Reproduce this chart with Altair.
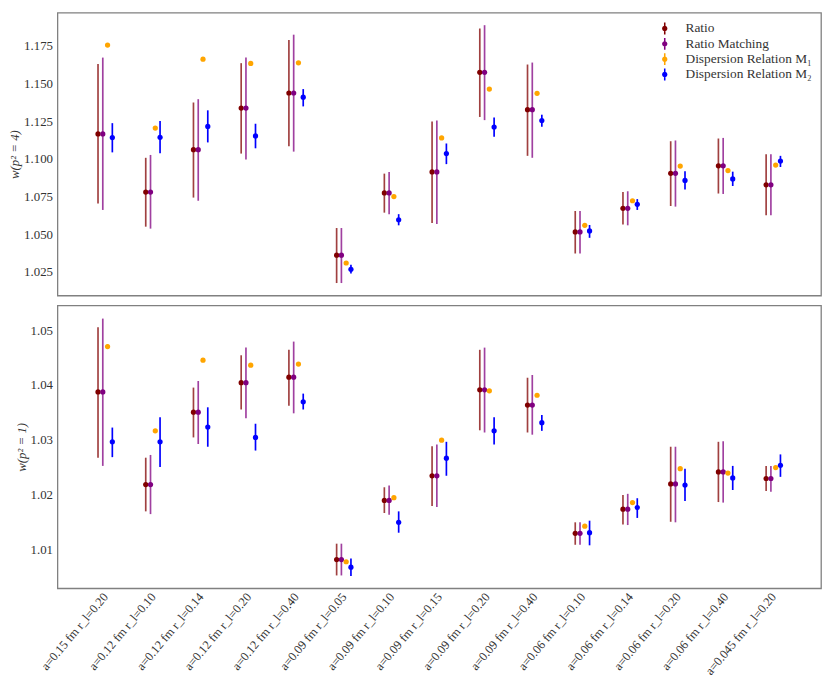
import altair as alt
import pandas as pd

categories = [
    "a=0.15 fm r_l=0.20", "a=0.12 fm r_l=0.10", "a=0.12 fm r_l=0.14", "a=0.12 fm r_l=0.20",
    "a=0.12 fm r_l=0.40", "a=0.09 fm r_l=0.05", "a=0.09 fm r_l=0.10", "a=0.09 fm r_l=0.15",
    "a=0.09 fm r_l=0.20", "a=0.09 fm r_l=0.40", "a=0.06 fm r_l=0.10", "a=0.06 fm r_l=0.14",
    "a=0.06 fm r_l=0.20", "a=0.06 fm r_l=0.40", "a=0.045 fm r_l=0.20",
]
series_names = ["Ratio", "Ratio Matching", "Dispersion Relation M₁", "Dispersion Relation M₂"]
series_colors = ["#800000", "#800080", "#FFA500", "#0000FF"]
bar_opacity = [0.75, 0.75, 1.0, 1.0]
offsets = [-0.15, -0.05, 0.05, 0.15]

# ---- w(p^2 = 4) ----
ratio4 = [1.1165, 1.078, 1.1061, 1.1337, 1.1437, 1.0361, 1.0774, 1.0913, 1.1574, 1.1326, 1.0515, 1.0672, 1.0904, 1.0954, 1.0828]
ratio4_lo = [1.0704, 1.055, 1.0743, 1.1035, 1.1083, 1.0176, 1.0643, 1.0574, 1.1278, 1.102, 1.0372, 1.0565, 1.0687, 1.077, 1.0626]
ratio4_hi = [1.163, 1.1007, 1.1374, 1.1635, 1.1789, 1.0541, 1.0902, 1.1248, 1.1865, 1.1626, 1.0654, 1.078, 1.1117, 1.1135, 1.103]
match4 = [1.1165, 1.078, 1.1061, 1.1337, 1.1437, 1.0361, 1.0774, 1.0913, 1.1574, 1.1326, 1.0515, 1.0672, 1.0904, 1.0954, 1.0828]
match4_lo = [1.0661, 1.0537, 1.0722, 1.0996, 1.1048, 1.0176, 1.0633, 1.0567, 1.1257, 1.1007, 1.0372, 1.0559, 1.0683, 1.0767, 1.0626]
match4_hi = [1.1672, 1.1026, 1.1396, 1.1672, 1.1824, 1.0541, 1.0913, 1.1254, 1.1887, 1.1639, 1.0654, 1.0785, 1.1122, 1.1139, 1.103]
m1_4 = [1.1755, 1.1204, 1.1661, 1.1633, 1.1637, 1.0309, 1.075, 1.1139, 1.1463, 1.1435, 1.0559, 1.0722, 1.0952, 1.0922, 1.0959]
m1_4_lo = [1.1743, 1.1204, 1.1661, 1.1633, 1.1637, 1.0309, 1.075, 1.1139, 1.1463, 1.1435, 1.0559, 1.0722, 1.0952, 1.0922, 1.0959]
m1_4_hi = [1.1767, 1.1204, 1.1661, 1.1633, 1.1637, 1.0309, 1.075, 1.1139, 1.1463, 1.1435, 1.0559, 1.0722, 1.0952, 1.0922, 1.0959]
m2_4 = [1.1141, 1.1143, 1.1215, 1.1152, 1.1409, 1.0267, 1.0596, 1.1035, 1.1211, 1.1254, 1.0522, 1.0698, 1.0857, 1.0867, 1.0985]
m2_4_lo = [1.1043, 1.1037, 1.1109, 1.107, 1.1348, 1.0239, 1.0559, 1.0965, 1.1146, 1.1213, 1.0476, 1.0661, 1.0796, 1.082, 1.0946]
m2_4_hi = [1.1237, 1.1252, 1.1322, 1.1233, 1.1463, 1.0298, 1.0633, 1.1102, 1.1274, 1.1293, 1.0561, 1.0733, 1.0917, 1.0915, 1.102]

# ---- w(p^2 = 1) ----
ratio1 = [1.0387, 1.0218, 1.035, 1.0404, 1.0414, 1.0081, 1.0189, 1.0234, 1.0391, 1.0363, 1.0129, 1.0173, 1.0219, 1.0241, 1.0229]
ratio1_lo = [1.0267, 1.0169, 1.0304, 1.0355, 1.0362, 1.0052, 1.0166, 1.0179, 1.0317, 1.0313, 1.0108, 1.0145, 1.015, 1.0186, 1.0206]
ratio1_hi = [1.0505, 1.0267, 1.0395, 1.0454, 1.0464, 1.011, 1.0213, 1.0288, 1.0464, 1.0413, 1.0149, 1.0199, 1.0287, 1.0296, 1.0252]
match1 = [1.0387, 1.0218, 1.035, 1.0404, 1.0414, 1.0081, 1.0189, 1.0234, 1.0391, 1.0363, 1.0129, 1.0173, 1.0219, 1.0241, 1.0229]
match1_lo = [1.0252, 1.0164, 1.0292, 1.0339, 1.0348, 1.0052, 1.0163, 1.0177, 1.0313, 1.0309, 1.0108, 1.0144, 1.0149, 1.0185, 1.0205]
match1_hi = [1.0521, 1.0272, 1.0407, 1.0468, 1.0479, 1.011, 1.0216, 1.0291, 1.0468, 1.0418, 1.0149, 1.0201, 1.0287, 1.0297, 1.0252]
m1_1 = [1.047, 1.0316, 1.0445, 1.0436, 1.0438, 1.0077, 1.0194, 1.0299, 1.0389, 1.0381, 1.0142, 1.0185, 1.0247, 1.0239, 1.0249]
m1_1_lo = [1.0466, 1.0316, 1.0445, 1.0436, 1.0438, 1.0077, 1.0194, 1.0299, 1.0389, 1.0381, 1.0142, 1.0185, 1.0247, 1.0239, 1.0249]
m1_1_hi = [1.0474, 1.0316, 1.0445, 1.0436, 1.0438, 1.0077, 1.0194, 1.0299, 1.0389, 1.0381, 1.0142, 1.0185, 1.0247, 1.0239, 1.0249]
m2_1 = [1.0296, 1.0296, 1.0323, 1.0304, 1.0369, 1.0067, 1.0149, 1.0266, 1.0316, 1.0331, 1.013, 1.0176, 1.0217, 1.023, 1.0253]
m2_1_lo = [1.0268, 1.025, 1.0287, 1.028, 1.0355, 1.0051, 1.013, 1.0234, 1.0291, 1.0316, 1.0107, 1.0157, 1.0188, 1.0208, 1.0232]
m2_1_hi = [1.0322, 1.0341, 1.0359, 1.0329, 1.0384, 1.0083, 1.0169, 1.0296, 1.0341, 1.0345, 1.0152, 1.0193, 1.0247, 1.0252, 1.0273]

yticks4 = [1.025, 1.05, 1.075, 1.1, 1.125, 1.15, 1.175]
yticks1 = [1.01, 1.02, 1.03, 1.04, 1.05]


def make_df(vals, los, his):
    rows = []
    for s in range(len(series_names)):
        for i in range(len(categories)):
            rows.append(dict(series=series_names[s], x=i + offsets[s],
                             y=vals[s][i], lo=los[s][i], hi=his[s][i],
                             bar_color=series_colors[s], bar_alpha=bar_opacity[s]))
    return pd.DataFrame(rows)


df4 = make_df([ratio4, match4, m1_4, m2_4], [ratio4_lo, match4_lo, m1_4_lo, m2_4_lo],
              [ratio4_hi, match4_hi, m1_4_hi, m2_4_hi])
df1 = make_df([ratio1, match1, m1_1, m2_1], [ratio1_lo, match1_lo, m1_1_lo, m2_1_lo],
              [ratio1_hi, match1_hi, m1_1_hi, m2_1_hi])

label_expr = "[" + ",".join("'" + c + "'" for c in categories) + "][datum.value]"
color_scale = alt.Scale(domain=series_names, range=series_colors)
legend_symbol = ("M-0.45,0A0.45,0.45 0 1,1 0.45,0A0.45,0.45 0 1,1 -0.45,0Z"
                 "M-0.13,-1L0.13,-1L0.13,1L-0.13,1Z")

FONT = "Liberation Serif"
TXT = "#333333"


def panel(df, ytitle, domain, ticks, fmt, show_x, show_legend):
    xaxis = alt.Axis(values=list(range(len(categories))), labelExpr=label_expr,
                     labelAngle=310, labelAlign="right", labelBaseline="middle",
                     ticks=False, domain=False, grid=False, labels=show_x,
                     labelOverlap=False, labelBound=False,
                     labelPadding=6, title=None, labelFontSize=12.5)
    xscale = alt.Scale(domain=[-1, 15], nice=False, zero=False)
    yscale = alt.Scale(domain=domain, nice=False, zero=False)
    yaxis = alt.Axis(values=ticks, format=fmt, title=ytitle, ticks=False, domain=False,
                     grid=False, labelPadding=5, titlePadding=2, titleFontStyle="italic",
                     titleFontWeight="normal", labelOverlap=False)
    base = alt.Chart(df)
    rules = base.mark_rule(strokeWidth=1.7).encode(
        x=alt.X("x:Q", scale=xscale, axis=xaxis),
        y=alt.Y("lo:Q", scale=yscale, axis=yaxis),
        y2="hi:Q",
        stroke=alt.Stroke("bar_color:N", scale=None),
        opacity=alt.Opacity("bar_alpha:Q", scale=None),
    )
    if show_legend:
        legend = alt.Legend(title=None, orient="top-right", offset=9, padding=0,
                            symbolType=legend_symbol, symbolSize=144,
                            labelFont=FONT, labelFontSize=13.5, labelColor=TXT,
                            labelOffset=14, rowPadding=1.5)
        color = alt.Color("series:N", scale=color_scale, legend=legend)
    else:
        color = alt.Color("series:N", scale=color_scale, legend=None)
    points = base.mark_point(filled=True, size=28, opacity=1).encode(
        x=alt.X("x:Q", scale=xscale, axis=xaxis),
        y=alt.Y("y:Q", scale=yscale, axis=yaxis),
        color=color,
    )
    return alt.layer(rules, points).properties(width=772, height=286)


top = panel(df4, "w(p² = 4)", [1.0093, 1.197], yticks4, ".3f", False, True)
bottom = panel(df1, "w(p² = 1)", [1.00285, 1.0545], yticks1, ".2f", True, False)

chart = alt.vconcat(top, bottom, spacing=8).resolve_scale(
    x="independent", y="independent", color="independent"
).properties(padding=0).configure(font=FONT).configure_view(
    stroke="#808080", strokeWidth=1.3
).configure_axis(
    labelFont=FONT, titleFont=FONT, labelColor=TXT, titleColor=TXT,
    labelFontSize=13, titleFontSize=13
)

chart.save("out.html", embed_options={"renderer": "svg", "actions": False})
